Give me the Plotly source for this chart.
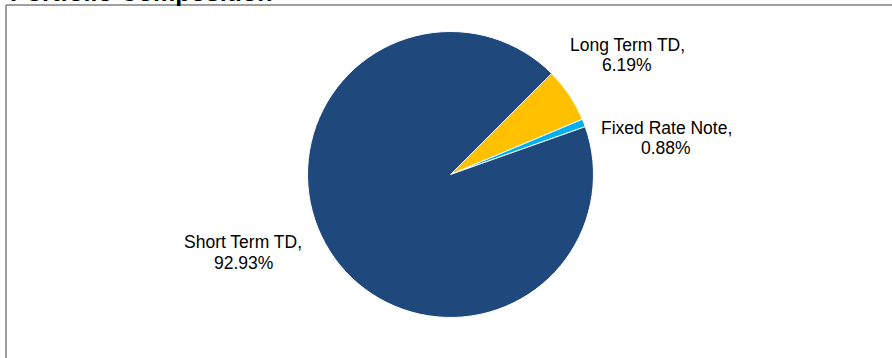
import plotly.graph_objects as go

# Portfolio holdings by instrument type (percent of portfolio)
categories = ["Long Term TD", "Fixed Rate Note", "Short Term TD"]
shares = [6.19, 0.88, 92.93]
colors = ["#FFC000", "#00B0F0", "#1F497D"]

# Label centres in pixels: x, y of first line, y of second line
label_pos = [(627, 45, 65), (666, 128, 148), (243, 242, 263)]

W, H = 892, 358
cx, cy, r = 450.5, 174.5, 143
label_font = dict(family="Liberation Sans, Arial, sans-serif", size=17.5, color="#000000")

fig = go.Figure(
    go.Pie(
        labels=categories,
        values=shares,
        marker=dict(colors=colors, line=dict(color="white", width=1)),
        sort=False,
        direction="clockwise",
        rotation=45,
        textinfo="none",
        hoverinfo="label+percent",
        showlegend=False,
        domain=dict(
            x=[(cx - r) / W, (cx + r) / W],
            y=[(H - cy - r) / H, (H - cy + r) / H],
        ),
    )
)

annotations = []
for name, val, (px, py1, py2) in zip(categories, shares, label_pos):
    for txt, py in ((f"{name},", py1), (f"{val:.2f}%", py2)):
        annotations.append(
            dict(
                text=txt,
                x=px / W,
                y=1 - py / H,
                xref="paper",
                yref="paper",
                xanchor="center",
                yanchor="middle",
                showarrow=False,
                font=label_font,
            )
        )

# Chart title
annotations.append(
    dict(
        text="<b>Portfolio Composition</b>",
        x=8 / W,
        y=1 + 8 / H,
        xref="paper",
        yref="paper",
        xanchor="left",
        yanchor="middle",
        showarrow=False,
        font=dict(family="Liberation Sans, Arial, sans-serif", size=25, color="#000000"),
    )
)

# Frame around the plot area
frame_color = "#7F7F7F"
shapes = [
    dict(type="line", xref="paper", yref="paper",
         x0=6 / W, x1=1.05, y0=1 - 5 / H, y1=1 - 5 / H,
         line=dict(color=frame_color, width=1.5)),
    dict(type="line", xref="paper", yref="paper",
         x0=6 / W, x1=6 / W, y0=1 - 5 / H, y1=-0.05,
         line=dict(color=frame_color, width=1.5)),
]

fig.update_layout(
    width=W,
    height=H,
    margin=dict(l=0, r=0, t=0, b=0),
    paper_bgcolor="white",
    plot_bgcolor="white",
    annotations=annotations,
    shapes=shapes,
)

fig.write_html("out.html")
